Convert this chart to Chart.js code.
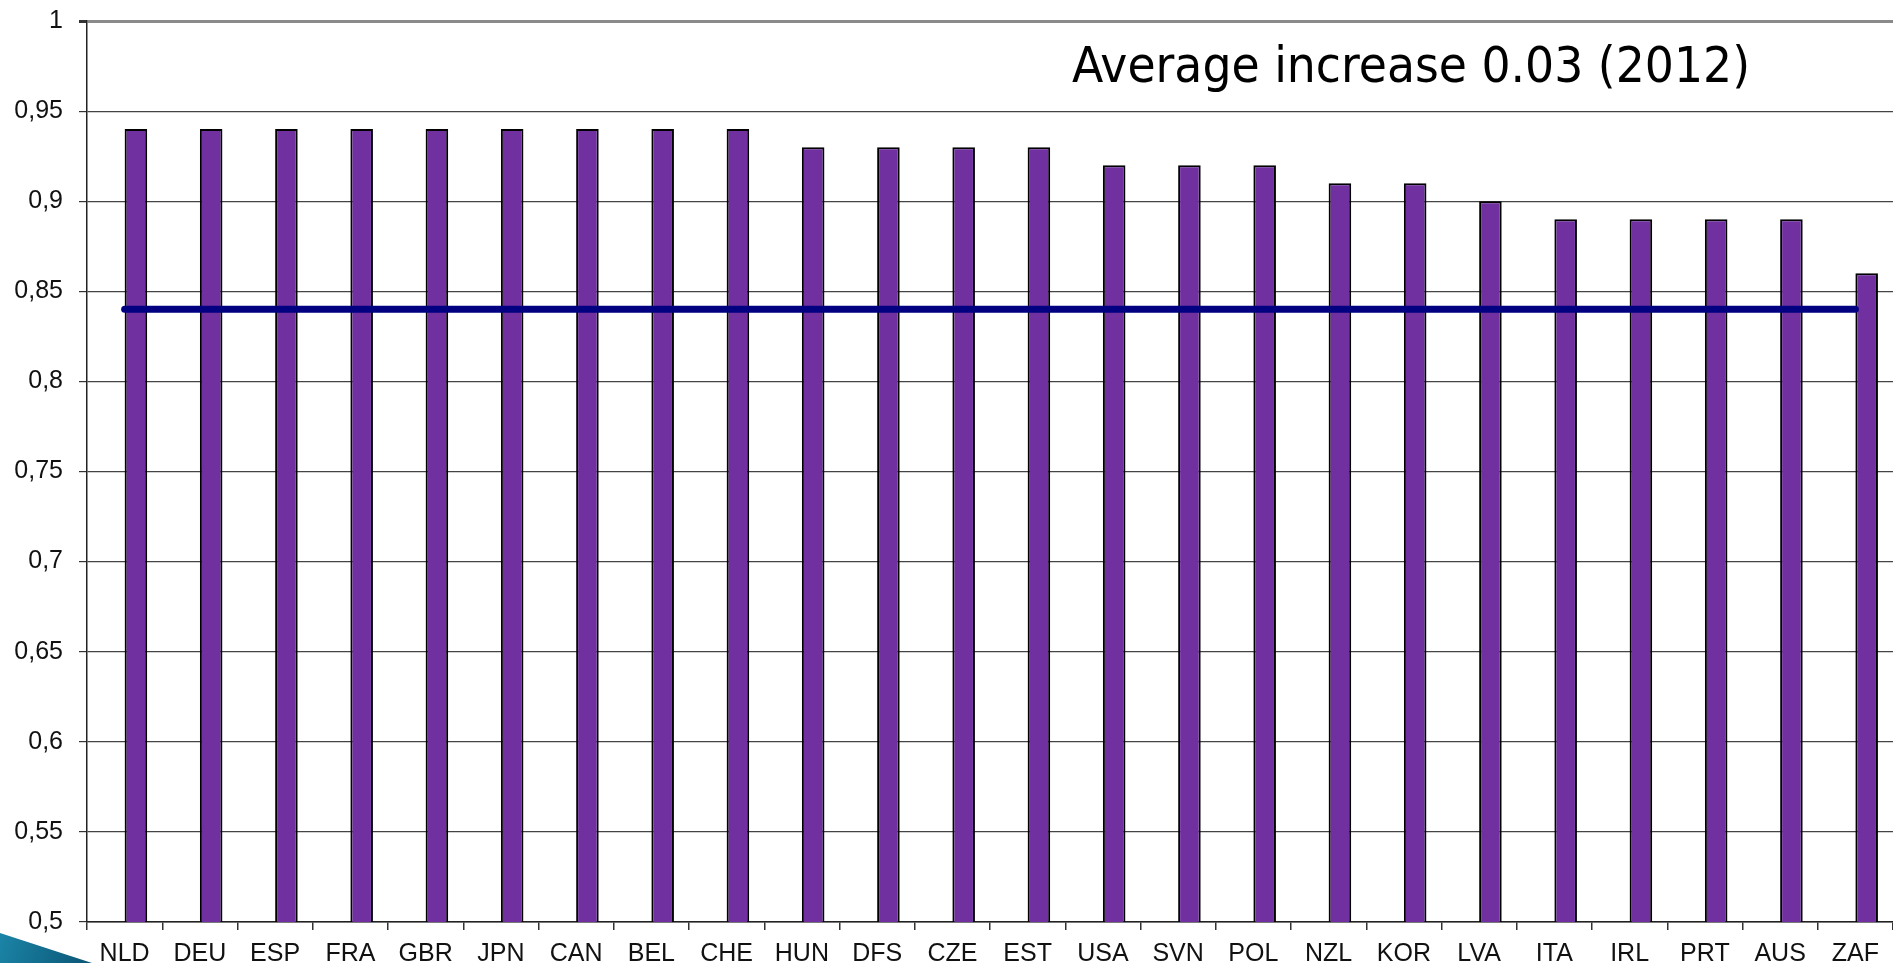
<!DOCTYPE html>
<html>
<head>
<meta charset="utf-8">
<title>Average increase 0.03 (2012)</title>
<script src="https://cdn.jsdelivr.net/npm/chart.js@4/dist/chart.umd.min.js"></script>
<style>
  html, body { margin: 0; padding: 0; background: #fff; overflow: hidden; }
  #chart { display: block; }
</style>
</head>
<body>
<canvas id="chart" width="1893" height="963"></canvas>
<script>
// Data
const countries = ['NLD', 'DEU', 'ESP', 'FRA', 'GBR', 'JPN', 'CAN', 'BEL', 'CHE', 'HUN', 'DFS', 'CZE',
  'EST', 'USA', 'SVN', 'POL', 'NZL', 'KOR', 'LVA', 'ITA', 'IRL', 'PRT', 'AUS', 'ZAF'];
const values2012 = [0.94, 0.94, 0.94, 0.94, 0.94, 0.94, 0.94, 0.94, 0.94, 0.93, 0.93, 0.93,
  0.93, 0.92, 0.92, 0.92, 0.91, 0.91, 0.90, 0.89, 0.89, 0.89, 0.89, 0.86];
// first series sits on the axis floor (flat bars left of each purple bar)
const floorSeries = [0.5, 0.5, 0.5, 0.5, 0.5, 0.5, 0.5, 0.5, 0.5, 0.5, 0.5, 0.5,
  0.5, 0.5, 0.5, 0.5, 0.5, 0.5, 0.5, 0.5, 0.5, 0.5, 0.5, 0.5];
const averageLine = [0.84, 0.84, 0.84, 0.84, 0.84, 0.84, 0.84, 0.84, 0.84, 0.84, 0.84, 0.84,
  0.84, 0.84, 0.84, 0.84, 0.84, 0.84, 0.84, 0.84, 0.84, 0.84, 0.84, 0.84];
const yMin = 0.5;
const yMax = 1;
const yStep = 0.05;
const titleText = 'Average increase 0.03 (2012)';

Chart.defaults.font.family = '"Liberation Sans", Arial, sans-serif';
Chart.defaults.color = '#111';

// slide decoration + title text drawn on the canvas
const slideDecor = {
  id: 'slideDecor',
  beforeDraw(chart) {
    const ctx = chart.ctx;
    ctx.save();
    const g = ctx.createLinearGradient(0, 935, 90, 963);
    g.addColorStop(0, '#1b84a6');
    g.addColorStop(1, '#0b5676');
    ctx.fillStyle = g;
    ctx.beginPath();
    ctx.moveTo(0, 933);
    ctx.lineTo(92, 963);
    ctx.lineTo(0, 963);
    ctx.closePath();
    ctx.fill();
    ctx.restore();
  },
  afterDraw(chart) {
    const ctx = chart.ctx;
    ctx.save();
    ctx.font = '49px "DejaVu Sans Condensed", "DejaVu Sans", sans-serif';
    ctx.fillStyle = '#000';
    ctx.textBaseline = 'alphabetic';
    ctx.textAlign = 'left';
    // stretch to the width of the original caption
    const w = ctx.measureText(titleText).width;
    ctx.translate(1072, 82);
    ctx.scale(678 / w, 1);
    ctx.fillText(titleText, 0, 0);
    ctx.restore();
  }
};

new Chart(document.getElementById('chart'), {
  type: 'bar',
  data: {
    labels: countries,
    datasets: [
      {
        type: 'line',
        label: 'Average',
        data: averageLine,
        borderColor: '#000080',
        borderWidth: 7,
        borderCapStyle: 'round',
        pointRadius: 0,
        fill: false,
        order: 0
      },
      {
        label: 'floor',
        data: floorSeries,
        backgroundColor: '#000',
        borderWidth: 0,
        minBarLength: 3,
        categoryPercentage: 0.6,
        barPercentage: 1,
        order: 1
      },
      {
        label: '2012',
        data: values2012,
        backgroundColor: '#7030A0',
        borderColor: '#000',
        borderWidth: 2,
        borderSkipped: false,
        categoryPercentage: 0.6,
        barPercentage: 1,
        order: 1
      }
    ]
  },
  options: {
    responsive: false,
    animation: false,
    devicePixelRatio: 1,
    layout: { padding: { top: 21, right: 0, left: 0, bottom: 0 } },
    plugins: {
      legend: { display: false },
      tooltip: { enabled: false },
      title: { display: false }
    },
    scales: {
      x: {
        offset: true,
        grid: {
          drawOnChartArea: false,
          drawTicks: true,
          tickLength: 8,
          color: '#333',
          lineWidth: 1.5
        },
        border: { color: '#222', width: 1.5 },
        ticks: {
          font: { size: 25 },
          color: '#111',
          padding: 9,
          maxRotation: 0,
          autoSkip: false
        },
        afterFit(scale) { scale.height = 41; }
      },
      y: {
        min: yMin,
        max: yMax,
        grid: {
          color: (c) => (c.tick && c.tick.value === yMax ? '#8a8a8a' : '#444'),
          lineWidth: (c) => (c.tick && c.tick.value === yMax ? 3 : 1.2),
          tickLength: 8,
          tickColor: '#333'
        },
        border: { color: '#222', width: 1.5 },
        ticks: {
          stepSize: yStep,
          font: { size: 25 },
          color: '#111',
          padding: 16,
          callback: (v) => String(Math.round(v * 100) / 100).replace('.', ',')
        },
        afterFit(scale) {
          scale.width = 87;
          // tick padding would otherwise push the plot top down
          scale.paddingTop = 0;
          scale.paddingBottom = 0;
        }
      }
    }
  },
  plugins: [slideDecor]
});
</script>
</body>
</html>
